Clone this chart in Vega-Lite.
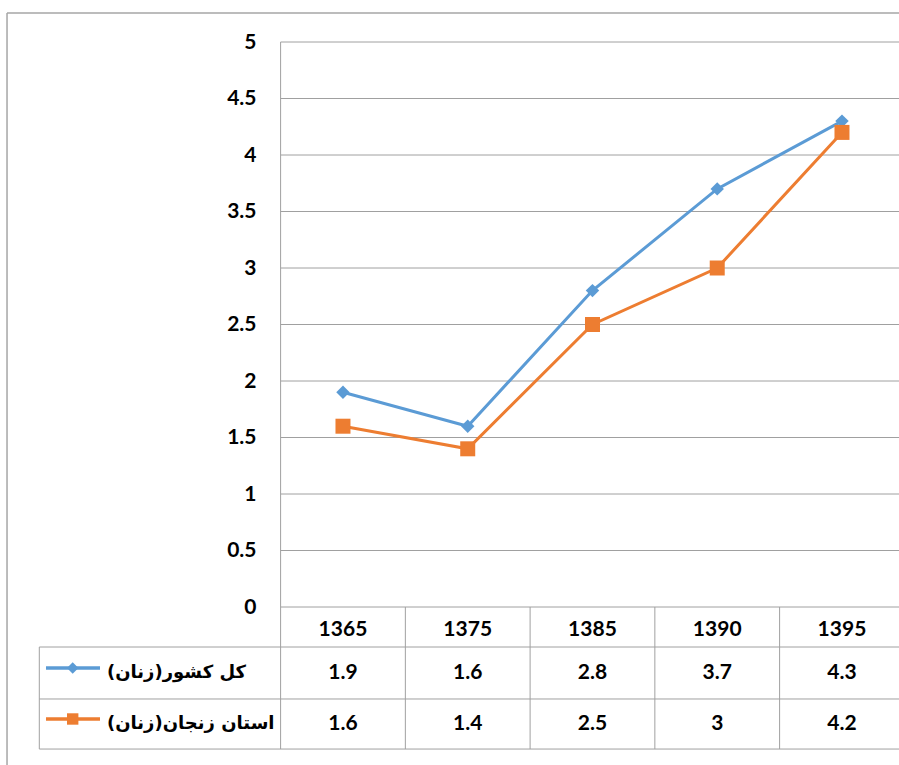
{
  "$schema": "https://vega.github.io/schema/vega-lite/v6.json",
  "width": 899,
  "height": 765,
  "padding": 0,
  "autosize": {"type": "none"},
  "background": "white",
  "config": {"view": {"stroke": null}, "font": "Lato"},
  "datasets": {
    "main": [
      {"year": "1365", "col": 0, "series": "کل کشور(زنان)", "value": 1.9},
      {"year": "1375", "col": 1, "series": "کل کشور(زنان)", "value": 1.6},
      {"year": "1385", "col": 2, "series": "کل کشور(زنان)", "value": 2.8},
      {"year": "1390", "col": 3, "series": "کل کشور(زنان)", "value": 3.7},
      {"year": "1395", "col": 4, "series": "کل کشور(زنان)", "value": 4.3},
      {"year": "1365", "col": 0, "series": "استان زنجان(زنان)", "value": 1.6},
      {"year": "1375", "col": 1, "series": "استان زنجان(زنان)", "value": 1.4},
      {"year": "1385", "col": 2, "series": "استان زنجان(زنان)", "value": 2.5},
      {"year": "1390", "col": 3, "series": "استان زنجان(زنان)", "value": 3},
      {"year": "1395", "col": 4, "series": "استان زنجان(زنان)", "value": 4.2}
    ]
  },
  "layer": [
    {
      "data": {"values": [{"v": 0}, {"v": 0.5}, {"v": 1}, {"v": 1.5}, {"v": 2}, {"v": 2.5}, {"v": 3}, {"v": 3.5}, {"v": 4}, {"v": 4.5}, {"v": 5}]},
      "mark": {"type": "rule", "clip": true, "color": "#a0a0a0", "strokeWidth": 1},
      "encoding": {
        "x": {"datum": -0.5, "type": "quantitative", "scale": {"domain": [-2.7493, 4.4571], "nice": false, "zero": false}, "axis": null},
        "x2": {"datum": 4.5},
        "y": {"field": "v", "type": "quantitative", "scale": {"domain": [-1.3982, 5.3717], "nice": false, "zero": false},
          "axis": {"values": [0, 0.5, 1, 1.5, 2, 2.5, 3, 3.5, 4, 4.5, 5], "format": ".1~f", "offset": -281, "ticks": false, "domain": false, "grid": false, "labelPadding": 25, "labelFont": "Lato", "labelFontSize": 21, "labelFontWeight": "bold", "labelColor": "#000000", "title": null}}
      }
    },
    {
      "data": {"values": [{"v": -0.354}, {"v": -0.814}, {"v": -1.257}]},
      "mark": {"type": "rule", "clip": true, "color": "#a0a0a0", "strokeWidth": 1},
      "encoding": {
        "x": {"datum": -2.4342, "type": "quantitative", "scale": {"domain": [-2.7493, 4.4571], "nice": false, "zero": false}, "axis": null},
        "x2": {"datum": 4.5},
        "y": {"field": "v", "type": "quantitative", "scale": {"domain": [-1.3982, 5.3717], "nice": false, "zero": false}}
      }
    },
    {
      "data": {"values": [{"e": -0.5, "top": 5}, {"e": 0.5, "top": 0}, {"e": 1.5, "top": 0}, {"e": 2.5, "top": 0}, {"e": 3.5, "top": 0}, {"e": -2.4342, "top": -0.354}]},
      "mark": {"type": "rule", "clip": true, "color": "#a0a0a0", "strokeWidth": 1},
      "encoding": {
        "x": {"field": "e", "type": "quantitative", "scale": {"domain": [-2.7493, 4.4571], "nice": false, "zero": false}, "axis": null},
        "y": {"field": "top", "type": "quantitative", "scale": {"domain": [-1.3982, 5.3717], "nice": false, "zero": false}},
        "y2": {"datum": -1.257}
      }
    },
    {
      "data": {"values": [{"b": "border"}]},
      "mark": {"type": "rule", "clip": true, "color": "#a6a6a6", "strokeWidth": 1.5},
      "encoding": {
        "x": {"datum": -2.693, "type": "quantitative", "scale": {"domain": [-2.7493, 4.4571], "nice": false, "zero": false}, "axis": null},
        "x2": {"datum": 4.4571},
        "y": {"datum": 5.257, "type": "quantitative", "scale": {"domain": [-1.3982, 5.3717], "nice": false, "zero": false}}
      }
    },
    {
      "data": {"values": [{"b": "border"}]},
      "mark": {"type": "rule", "clip": true, "color": "#a6a6a6", "strokeWidth": 1.5},
      "encoding": {
        "x": {"datum": -2.693, "type": "quantitative", "scale": {"domain": [-2.7493, 4.4571], "nice": false, "zero": false}, "axis": null},
        "y": {"datum": 5.257, "type": "quantitative", "scale": {"domain": [-1.3982, 5.3717], "nice": false, "zero": false}},
        "y2": {"datum": -1.3982}
      }
    },
    {
      "data": {"name": "main"},
      "mark": {"type": "line", "strokeWidth": 3},
      "encoding": {
        "x": {"field": "col", "type": "quantitative", "scale": {"domain": [-2.7493, 4.4571], "nice": false, "zero": false}, "axis": null},
        "y": {"field": "value", "type": "quantitative", "scale": {"domain": [-1.3982, 5.3717], "nice": false, "zero": false}},
        "color": {"field": "series", "type": "nominal", "scale": {"domain": ["کل کشور(زنان)", "استان زنجان(زنان)"], "range": ["#5B9BD5", "#ED7D31"]}, "legend": null},
        "detail": {"field": "series"}
      }
    },
    {
      "data": {"name": "main"},
      "mark": {"type": "point", "filled": true, "opacity": 1},
      "encoding": {
        "x": {"field": "col", "type": "quantitative", "scale": {"domain": [-2.7493, 4.4571], "nice": false, "zero": false}, "axis": null},
        "y": {"field": "value", "type": "quantitative", "scale": {"domain": [-1.3982, 5.3717], "nice": false, "zero": false}},
        "color": {"field": "series", "type": "nominal", "scale": {"domain": ["کل کشور(زنان)", "استان زنجان(زنان)"], "range": ["#5B9BD5", "#ED7D31"]}, "legend": null},
        "shape": {"field": "series", "type": "nominal", "scale": {"domain": ["کل کشور(زنان)", "استان زنجان(زنان)"], "range": ["diamond", "square"]}, "legend": null},
        "size": {"field": "series", "type": "nominal", "scale": {"domain": ["کل کشور(زنان)", "استان زنجان(زنان)"], "range": [180, 225]}, "legend": null}
      }
    },
    {
      "data": {"name": "main"},
      "transform": [{"filter": "datum.series === 'کل کشور(زنان)'"}],
      "mark": {"type": "text", "font": "Lato", "fontSize": 21, "fontWeight": "bold", "color": "#000000", "baseline": "middle", "align": "center"},
      "encoding": {
        "x": {"field": "col", "type": "quantitative", "scale": {"domain": [-2.7493, 4.4571], "nice": false, "zero": false}, "axis": null},
        "y": {"datum": -0.2, "type": "quantitative", "scale": {"domain": [-1.3982, 5.3717], "nice": false, "zero": false}},
        "text": {"field": "year"}
      }
    },
    {
      "data": {"name": "main"},
      "transform": [{"filter": "datum.series === 'کل کشور(زنان)'"}],
      "mark": {"type": "text", "font": "Lato", "fontSize": 21, "fontWeight": "bold", "color": "#000000", "baseline": "middle", "align": "center"},
      "encoding": {
        "x": {"field": "col", "type": "quantitative", "scale": {"domain": [-2.7493, 4.4571], "nice": false, "zero": false}, "axis": null},
        "y": {"datum": -0.584, "type": "quantitative", "scale": {"domain": [-1.3982, 5.3717], "nice": false, "zero": false}},
        "text": {"field": "value"}
      }
    },
    {
      "data": {"name": "main"},
      "transform": [{"filter": "datum.series === 'استان زنجان(زنان)'"}],
      "mark": {"type": "text", "font": "Lato", "fontSize": 21, "fontWeight": "bold", "color": "#000000", "baseline": "middle", "align": "center"},
      "encoding": {
        "x": {"field": "col", "type": "quantitative", "scale": {"domain": [-2.7493, 4.4571], "nice": false, "zero": false}, "axis": null},
        "y": {"datum": -1.035, "type": "quantitative", "scale": {"domain": [-1.3982, 5.3717], "nice": false, "zero": false}},
        "text": {"field": "value"}
      }
    },
    {
      "data": {"values": [{"series": "کل کشور(زنان)", "ly": -0.54}, {"series": "استان زنجان(زنان)", "ly": -0.991}]},
      "mark": {"type": "rule", "strokeWidth": 3.5},
      "encoding": {
        "x": {"datum": -2.3806, "type": "quantitative", "scale": {"domain": [-2.7493, 4.4571], "nice": false, "zero": false}, "axis": null},
        "x2": {"datum": -1.9477},
        "y": {"field": "ly", "type": "quantitative", "scale": {"domain": [-1.3982, 5.3717], "nice": false, "zero": false}},
        "color": {"field": "series", "type": "nominal", "scale": {"domain": ["کل کشور(زنان)", "استان زنجان(زنان)"], "range": ["#5B9BD5", "#ED7D31"]}, "legend": null}
      }
    },
    {
      "data": {"values": [{"series": "کل کشور(زنان)", "ly": -0.54}, {"series": "استان زنجان(زنان)", "ly": -0.991}]},
      "mark": {"type": "point", "filled": true, "opacity": 1, "size": 130},
      "encoding": {
        "x": {"datum": -2.1666, "type": "quantitative", "scale": {"domain": [-2.7493, 4.4571], "nice": false, "zero": false}, "axis": null},
        "y": {"field": "ly", "type": "quantitative", "scale": {"domain": [-1.3982, 5.3717], "nice": false, "zero": false}},
        "color": {"field": "series", "type": "nominal", "scale": {"domain": ["کل کشور(زنان)", "استان زنجان(زنان)"], "range": ["#5B9BD5", "#ED7D31"]}, "legend": null},
        "shape": {"field": "series", "type": "nominal", "scale": {"domain": ["کل کشور(زنان)", "استان زنجان(زنان)"], "range": ["diamond", "square"]}, "legend": null}
      }
    },
    {
      "data": {"values": [{"label": "کل کشور(زنان)\u200f", "ty": -0.584}, {"label": "استان زنجان(زنان)\u200f", "ty": -1.035}]},
      "mark": {"type": "text", "font": "DejaVu Sans", "fontSize": 18, "fontWeight": "bold", "color": "#000000", "baseline": "middle", "align": "left"},
      "encoding": {
        "x": {"datum": -1.8916, "type": "quantitative", "scale": {"domain": [-2.7493, 4.4571], "nice": false, "zero": false}, "axis": null},
        "y": {"field": "ty", "type": "quantitative", "scale": {"domain": [-1.3982, 5.3717], "nice": false, "zero": false}},
        "text": {"field": "label"}
      }
    }
  ]
}
